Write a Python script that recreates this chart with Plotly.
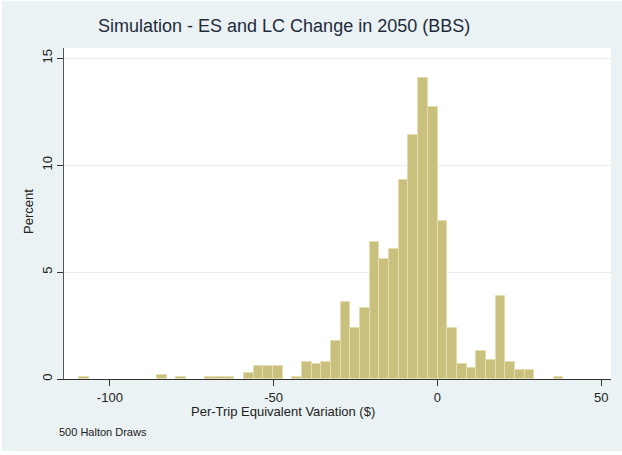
import plotly.graph_objects as go

# Histogram data (Stata-style histogram, 50 bins)
bin_start = -109.3      # left edge of first bin
bin_width = 2.955       # bin width ($)
percent = [
    0.1, 0, 0, 0, 0, 0, 0, 0, 0.2, 0,
    0.1, 0, 0, 0.1, 0.1, 0.1, 0, 0.3, 0.6, 0.6,
    0.6, 0, 0.1, 0.8, 0.7, 0.8, 1.8, 3.6, 2.4, 3.3,
    6.4, 5.6, 6.1, 9.3, 11.4, 14.1, 12.7, 7.4, 2.4, 0.7,
    0.5, 1.3, 0.9, 3.9, 0.8, 0.4, 0.4, 0, 0, 0.1,
]
x_ticks = [-100, -50, 0, 50]
y_ticks = [0, 5, 10, 15]

title = "Simulation - ES and LC Change in 2050 (BBS)"
x_title = "Per-Trip Equivalent Variation ($)"
y_title = "Percent"
note = "500 Halton Draws"

centers = [bin_start + (i + 0.5) * bin_width for i in range(len(percent))]
xs = [c for c, p in zip(centers, percent) if p > 0]
ys = [p for p in percent if p > 0]

W, H = 622, 455
L, R, T, B = 64, 11, 48, 76
pw, ph = W - L - R, H - T - B

def px(x):
    return (x - L) / pw

def py(y):
    return (H - B - y) / ph

font = "Liberation Sans, Arial, sans-serif"
bg = "#eaf2f3"

fig = go.Figure()
fig.add_trace(go.Bar(
    x=xs, y=ys, width=bin_width,
    marker=dict(color="#cac07e", line=dict(color="#e4ddb0", width=1)),
    hoverinfo="x+y",
))

fig.update_layout(
    width=W, height=H,
    margin=dict(l=L, r=R, t=T, b=B),
    paper_bgcolor="white",
    plot_bgcolor="rgba(0,0,0,0)",
    showlegend=False,
    bargap=0,
    font=dict(family=font, size=13, color="#222222"),
    shapes=[
        dict(type="rect", xref="paper", yref="paper", layer="below",
             x0=px(2), x1=px(W), y0=py(451), y1=py(1),
             fillcolor=bg, line=dict(width=0)),
        dict(type="rect", xref="paper", yref="paper", layer="below",
             x0=0, x1=1, y0=0, y1=1,
             fillcolor="white", line=dict(width=0)),
    ],
    annotations=[
        dict(text=title, xref="paper", yref="paper", x=px(284), y=py(26),
             xanchor="center", yanchor="middle", showarrow=False,
             font=dict(family=font, size=18, color="#1f2b3a")),
        dict(text=x_title, xref="paper", yref="paper", x=px(283), y=py(411),
             xanchor="center", yanchor="middle", showarrow=False,
             font=dict(family=font, size=13, color="#222222")),
        dict(text=y_title, xref="paper", yref="paper", x=px(28), y=py(212),
             xanchor="center", yanchor="middle", showarrow=False, textangle=-90,
             font=dict(family=font, size=13, color="#222222")),
        dict(text=note, xref="paper", yref="paper", x=px(57), y=py(432),
             xanchor="left", yanchor="middle", showarrow=False,
             font=dict(family=font, size=11, color="#222222")),
    ],
)

fig.update_xaxes(
    range=[-114, 53], tickvals=x_ticks, ticktext=[str(v) for v in x_ticks],
    ticks="outside", ticklen=6, tickcolor="#333333", tickwidth=1,
    showline=True, linecolor="#333333", linewidth=1.2,
    showgrid=False, zeroline=False,
    tickfont=dict(family=font, size=13, color="#222222"),
)
fig.update_yaxes(
    range=[0, 15.48], tickvals=y_ticks, ticktext=[str(v) for v in y_ticks],
    ticks="outside", ticklen=6, tickcolor="#333333", tickwidth=1,
    tickangle=-90,
    showline=True, linecolor="#555555", linewidth=1.2,
    showgrid=True, gridcolor="#e6eef0", gridwidth=1, zeroline=False,
    tickfont=dict(family=font, size=13, color="#222222"),
)

fig.write_html(
    "out.html",
    config={"displayModeBar": False},
    post_script="document.body.style.margin='0';document.body.style.overflow='hidden';",
)
